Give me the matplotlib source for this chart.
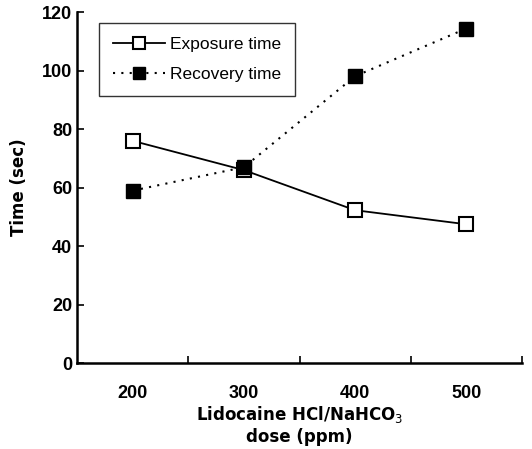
import matplotlib.pyplot as plt
import numpy as np

doses = ["200", "300", "400", "500"]
exposure = [76, 66, 52.3, 47.5]
recovery = [59, 67, 98.1, 114.4]

plt.rcParams['font.family'] = ['Liberation Sans', 'DejaVu Sans']

fig = plt.figure(figsize=(5.32, 4.49), dpi=100)
ax = fig.add_axes([0.145, 0.191, 0.836, 0.782])

pos = np.arange(len(doses)) + 0.5
ax.plot(pos, exposure, '-', color='black', lw=1.3, marker='s', ms=9.5,
        mfc='white', mec='black', mew=1.5, label='Exposure time')
ax.plot(pos, recovery, color='black', lw=1.5, ls=(0, (1, 3)), marker='s', ms=9.5,
        mfc='black', mec='black', label='Recovery time')

ax.set_xlim(0, 4)
ax.set_ylim(0, 120)
ax.set_xticks(pos)
ax.set_xticklabels(doses, fontsize=13, fontweight='bold')
ax.set_xticks([1, 2, 3, 4], minor=True)
ax.tick_params(axis='x', which='major', length=0, pad=16)
ax.tick_params(axis='x', which='minor', direction='in', length=5, width=1.2)
ax.set_yticks(np.arange(0, 121, 20))
ax.tick_params(axis='y', direction='in', length=5, width=1.2, labelsize=13)
for t in ax.get_yticklabels():
    t.set_fontweight('bold')

for s in ['top', 'right']:
    ax.spines[s].set_visible(False)
for s in ['left', 'bottom']:
    ax.spines[s].set_linewidth(1.8)

ax.set_xlabel('Lidocaine HCl/NaHCO$_3$\ndose (ppm)', fontsize=12,
              family='DejaVu Sans', fontweight='bold', labelpad=1,
              linespacing=1.2)
ax.set_ylabel('Time (sec)', fontsize=12, family='DejaVu Sans',
              fontweight='bold', labelpad=10)

leg = ax.legend(loc='upper left', bbox_to_anchor=(0.03, 0.995), fontsize=12.5,
                frameon=True, fancybox=False, edgecolor='black',
                handlelength=3.0, borderpad=0.8, labelspacing=0.9,
                handletextpad=0.3)
leg.get_frame().set_linewidth(1.0)
for h in leg.legend_handles:
    h.set_markersize(8)

fig.savefig('out.png', dpi=100)
